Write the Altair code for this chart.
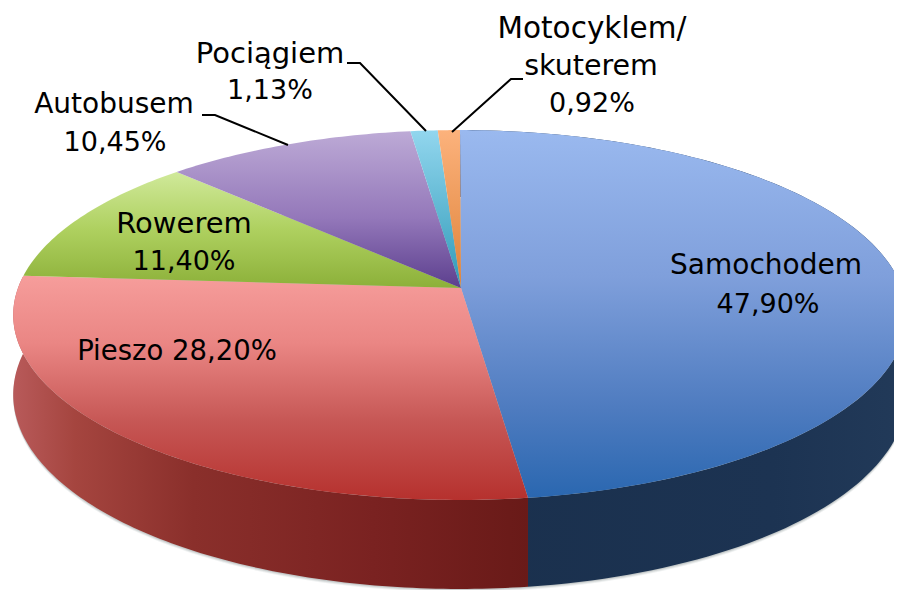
import numpy as np
import altair as alt

# ---- chart data ----
names = ["Samochodem", "Pieszo", "Rowerem", "Autobusem", "Pociągiem", "Motocyklem"]
shares = [47.90, 28.20, 11.40, 10.45, 1.13, 0.92]

# ---- styling ----
top_stops = [
    [(0, "#9ab9ef"), (0.4, "#7f9fdb"), (0.75, "#4f7cc0"), (1, "#2a67b0")],
    [(0, "#f69d9b"), (0.3, "#ea8684"), (0.65, "#c65755"), (1, "#b6312e")],
    [(0, "#d0e99a"), (0.5, "#aed05f"), (1, "#8cb039")],
    [(0, "#bdaad6"), (0.55, "#9478ba"), (1, "#5c3f8e")],
    [(0, "#92d6ee"), (1, "#2f9ab8")],
    [(0, "#fcb27c"), (1, "#de8238")],
]
wall_stops = [
    [(0, "#1a304d"), (0.7, "#1c3352"), (1, "#223a59")],
    [(0, "#b85a5a"), (0.12, "#a5453f"), (0.35, "#8a2f2b"), (0.7, "#7a2221"), (1, "#691a18")],
]
label_lines = [
    ("Motocyklem/", 592, 29, 29.5), ("skuterem", 591, 66, 28.5), ("0,92%", 592, 104, 27),
    ("Pociągiem", 270, 54, 29), ("1,13%", 270, 91, 27),
    ("Autobusem", 114, 105, 28), ("10,45%", 115, 143, 27),
    ("Rowerem", 184, 224, 29), ("11,40%", 184, 262, 27),
    ("Samochodem", 766, 266, 28), ("47,90%", 768, 305, 27),
    ("Pieszo 28,20%", 177, 352, 27.5),
]
leaders = [
    [(347, 63), (360, 63), (426, 131)],
    [(202, 115), (215, 115), (288, 145)],
    [(523, 79), (511, 79), (452, 132)],
]

# ---- page layout ----
W, H = 886, 582
MARGIN = 8

# ---- tilted-disc geometry (perspective view of the pie) ----
APEX = (461, 288)
CX, BX, AY, PERSP = 460, 442, 181, 0.146
SIDE_DEPTH, FRONT_EXTRA = 78, 11


def rim(theta, lower=False, extra=0.0):
    u, v = np.sin(theta), np.cos(theta)
    w = 1 + PERSP * v
    dy = (SIDE_DEPTH - FRONT_EXTRA * v + extra) if lower else 0.0
    return list(zip((CX + BX * u / w).tolist(), (APEX[1] - AY * v / w + dy).tolist()))


def feature(points):
    ring = [[float(a), float(b)] for a, b in points]
    ring.append(ring[0])
    return {"type": "Feature", "properties": {},
            "geometry": {"type": "Polygon", "coordinates": [ring]}}


def grad(stops, vertical=True):
    return alt.Gradient(
        gradient="linear",
        x1=0, y1=0, x2=0 if vertical else 1, y2=1 if vertical else 0,
        stops=[alt.GradientStop(offset=o, color=c) for o, c in stops],
    )


def shape(points, **mark):
    return (
        alt.Chart(alt.Data(values=[feature(points)]))
        .mark_geoshape(clip=True, **mark)
        .project(type="identity", scale=1, translate=[-MARGIN, -MARGIN])
    )


edges = np.radians(np.concatenate([[0], np.cumsum(shares)]) * 3.6)
layers = []

# soft shadow beneath the disc
full = np.linspace(0, 2 * np.pi, 240)
for extra, alpha in [(3, 0.12), (2, 0.18), (1, 0.25)]:
    layers.append(shape(rim(full, True, extra), fill="#7f8a8a", fillOpacity=alpha))

# side walls of the two front slices
for i, stops in enumerate(wall_stops):
    th = np.linspace(edges[i], edges[i + 1], 120)
    pts = rim(th) + rim(th[::-1], True)
    layers.append(shape(pts, fill=grad(stops, vertical=False)))

# top surface of every slice
for i, stops in enumerate(top_stops):
    th = np.linspace(edges[i], edges[i + 1], max(8, int(shares[i] * 4)))
    layers.append(shape([APEX] + rim(th), fill=grad(stops)))

xs = alt.X("x:Q", axis=None, scale=alt.Scale(domain=[MARGIN, MARGIN + W], range=[0, W]))
ys = alt.Y("y:Q", axis=None, scale=alt.Scale(domain=[MARGIN, MARGIN + H], range=[0, H]))

for k, leader in enumerate(leaders):
    rows = [{"x": a, "y": b, "o": j} for j, (a, b) in enumerate(leader)]
    layers.append(
        alt.Chart(alt.Data(values=rows)).mark_line(color="#000000", strokeWidth=2)
        .encode(x=xs, y=ys, order="o:Q")
    )

text_rows = [{"t": t, "x": a, "y": b, "s": s} for t, a, b, s in label_lines]
layers.append(
    alt.Chart(alt.Data(values=text_rows))
    .mark_text(font="DejaVu Sans", color="#000000", align="center", baseline="middle")
    .encode(x=xs, y=ys, text="t:N", size=alt.Size("s:Q", scale=None, legend=None))
)

chart = (
    alt.layer(*layers)
    .properties(width=W, height=H, padding=0, autosize=alt.AutoSizeParams(type="none"),
                background="#ffffff")
    .configure_view(stroke=None)
)
chart.save("out.html", embed_options={"renderer": "svg", "actions": False})
